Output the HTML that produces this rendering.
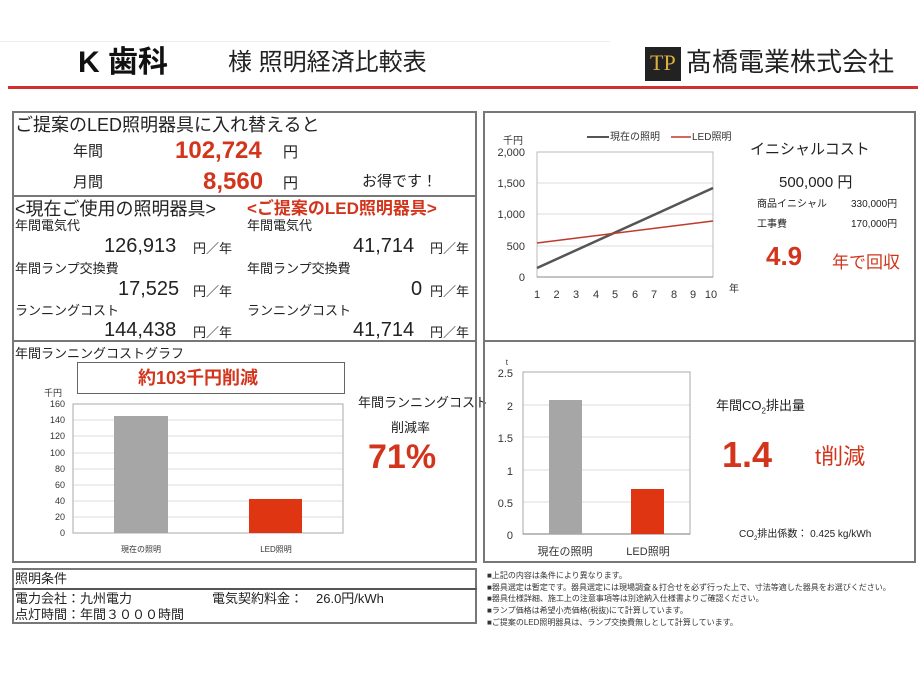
<!DOCTYPE html>
<html><head><meta charset="utf-8"><style>
body{margin:0;width:920px;height:690px;background:#fff;position:relative;overflow:hidden;font-family:"Liberation Sans","Noto Sans CJK JP",sans-serif;color:#222}
.a{position:absolute;white-space:nowrap;line-height:1}
.box{position:absolute;border:2px solid #777;box-sizing:border-box}
.red{color:#d2351c;font-weight:bold}
.s{font-size:13px}
</style></head><body>
<div class="a" style="left:0;top:41px;width:610px;height:1px;background:#eee"></div>
<div class="a" style="left:78px;top:48px;font-size:30px;font-weight:bold;color:#111">K 歯科</div>
<div class="a" style="left:228px;top:51px;font-size:24px;color:#222">様 照明経済比較表</div>
<div class="a" style="left:645px;top:47px;width:36px;height:34px;background:#222"></div>
<div class="a" style="left:650px;top:52px;font-size:22px;color:#dcb040;font-family:'Liberation Serif',serif">TP</div>
<div class="a" style="left:686px;top:49px;font-size:26px;color:#222">髙橋電業株式会社</div>
<div class="a" style="left:8px;top:86px;width:910px;height:3px;background:#d03030"></div>

<!-- left top -->
<div class="box" style="left:12px;top:111px;width:465px;height:231px"></div>
<div class="a" style="left:12px;top:195px;width:465px;height:2px;background:#777"></div>
<div class="a" style="left:15px;top:116px;font-size:18px">ご提案のLED照明器具に入れ替えると</div>
<div class="a" style="left:73px;top:144px;font-size:15px">年間</div>
<div class="a red" style="left:175px;top:139px;font-size:24px">102,724</div>
<div class="a" style="left:283px;top:145px;font-size:15px">円</div>
<div class="a" style="left:73px;top:175px;font-size:15px">月間</div>
<div class="a red" style="left:203px;top:170px;font-size:24px">8,560</div>
<div class="a" style="left:283px;top:176px;font-size:15px">円</div>
<div class="a" style="left:362px;top:174px;font-size:15px">お得です！</div>

<div class="a" style="left:15px;top:200px;font-size:18px">&lt;現在ご使用の照明器具&gt;</div>
<div class="a red" style="left:247px;top:200px;font-size:17px">&lt;ご提案のLED照明器具&gt;</div>
<div class="a s" style="left:15px;top:219px">年間電気代</div>
<div class="a s" style="left:247px;top:219px">年間電気代</div>
<div class="a" style="left:104px;top:236px;font-size:20px">126,913</div><div class="a s" style="left:193px;top:242px">円／年</div>
<div class="a" style="left:353px;top:236px;font-size:20px">41,714</div><div class="a s" style="left:430px;top:242px">円／年</div>
<div class="a s" style="left:15px;top:262px">年間ランプ交換費</div>
<div class="a s" style="left:247px;top:262px">年間ランプ交換費</div>
<div class="a" style="left:118px;top:279px;font-size:20px">17,525</div><div class="a s" style="left:193px;top:285px">円／年</div>
<div class="a" style="left:411px;top:279px;font-size:20px">0</div><div class="a s" style="left:430px;top:285px">円／年</div>
<div class="a s" style="left:15px;top:304px">ランニングコスト</div>
<div class="a s" style="left:247px;top:304px">ランニングコスト</div>
<div class="a" style="left:104px;top:320px;font-size:20px">144,438</div><div class="a s" style="left:193px;top:326px">円／年</div>
<div class="a" style="left:353px;top:320px;font-size:20px">41,714</div><div class="a s" style="left:430px;top:326px">円／年</div>

<!-- right top -->
<div class="box" style="left:483px;top:111px;width:433px;height:231px"></div>
<svg class="a" style="left:483px;top:111px" width="433" height="231">
<g stroke="#ddd"><line x1="54" y1="41" x2="230" y2="41"/><line x1="54" y1="72" x2="230" y2="72"/><line x1="54" y1="103" x2="230" y2="103"/><line x1="54" y1="135" x2="230" y2="135"/></g>
<rect x="54" y="41" width="176" height="125" fill="none" stroke="#bbb"/>
<line x1="54" y1="166" x2="230" y2="166" stroke="#888"/>
<line x1="54" y1="157" x2="230" y2="77" stroke="#555" stroke-width="2.5"/>
<line x1="54" y1="132" x2="230" y2="110" stroke="#c0392b" stroke-width="1.5"/>
<line x1="104" y1="26" x2="126" y2="26" stroke="#555" stroke-width="2"/>
<line x1="188" y1="26" x2="208" y2="26" stroke="#c0392b" stroke-width="1.5"/>
<g font-size="10" fill="#333" font-family="Liberation Sans,Noto Sans CJK JP,sans-serif">
<text x="127" y="29">現在の照明</text><text x="209" y="29">LED照明</text>
<text x="20" y="33">千円</text>
<g text-anchor="end" font-size="11"><text x="42" y="45">2,000</text><text x="42" y="76">1,500</text><text x="42" y="107">1,000</text><text x="42" y="139">500</text><text x="42" y="170">0</text></g>
<g text-anchor="middle" font-size="11"><text x="54" y="187">1</text><text x="73.5" y="187">2</text><text x="93" y="187">3</text><text x="113" y="187">4</text><text x="132" y="187">5</text><text x="152" y="187">6</text><text x="171" y="187">7</text><text x="191" y="187">8</text><text x="210" y="187">9</text><text x="228" y="187">10</text></g>
<text x="246" y="181">年</text>
</g>
</svg>
<div class="a" style="left:750px;top:142px;font-size:15px">イニシャルコスト</div>
<div class="a" style="left:779px;top:175px;font-size:15px">500,000 円</div>
<div class="a" style="left:757px;top:200px;font-size:10px">商品イニシャル</div>
<div class="a" style="left:851px;top:200px;font-size:10px">330,000円</div>
<div class="a" style="left:757px;top:220px;font-size:10px">工事費</div>
<div class="a" style="left:851px;top:220px;font-size:10px">170,000円</div>
<div class="a red" style="left:766px;top:243px;font-size:26px">4.9</div>
<div class="a" style="left:832px;top:254px;font-size:17px;color:#d2351c">年で回収</div>

<!-- left bottom -->
<div class="box" style="left:12px;top:340px;width:465px;height:223px"></div>
<div class="a s" style="left:15px;top:347px">年間ランニングコストグラフ</div>
<div class="a" style="left:77px;top:362px;width:268px;height:32px;border:1.5px solid #666;box-sizing:border-box"></div>
<div class="a red" style="left:138px;top:369px;font-size:18px">約103千円削減</div>
<svg class="a" style="left:12px;top:340px" width="465" height="223">
<g stroke="#ddd"><line x1="61" y1="64" x2="331" y2="64"/><line x1="61" y1="80" x2="331" y2="80"/><line x1="61" y1="96" x2="331" y2="96"/><line x1="61" y1="113" x2="331" y2="113"/><line x1="61" y1="129" x2="331" y2="129"/><line x1="61" y1="145" x2="331" y2="145"/><line x1="61" y1="161" x2="331" y2="161"/><line x1="61" y1="177" x2="331" y2="177"/></g>
<rect x="61" y="64" width="270" height="129" fill="none" stroke="#aaa"/>
<rect x="102" y="76" width="54" height="117" fill="#a6a6a6"/>
<rect x="237" y="159" width="53" height="34" fill="#e03512"/>
<g font-size="9" fill="#333" text-anchor="end" font-family="Liberation Sans,Noto Sans CJK JP,sans-serif">
<text x="50" y="56">千円</text>
<text x="53" y="67">160</text><text x="53" y="83">140</text><text x="53" y="99">120</text><text x="53" y="116">100</text><text x="53" y="132">80</text><text x="53" y="148">60</text><text x="53" y="164">40</text><text x="53" y="180">20</text><text x="53" y="196">0</text>
<g text-anchor="middle" font-size="8"><text x="129" y="212">現在の照明</text><text x="264" y="212">LED照明</text></g>
</g>
</svg>
<div class="a" style="left:358px;top:396px;font-size:13px">年間ランニングコスト</div>
<div class="a" style="left:391px;top:421px;font-size:13px">削減率</div>
<div class="a red" style="left:368px;top:440px;font-size:34px">71%</div>

<!-- right bottom -->
<div class="box" style="left:483px;top:340px;width:433px;height:223px"></div>
<svg class="a" style="left:483px;top:340px" width="433" height="223">
<g stroke="#ddd"><line x1="40" y1="32" x2="207" y2="32"/><line x1="40" y1="65" x2="207" y2="65"/><line x1="40" y1="97" x2="207" y2="97"/><line x1="40" y1="130" x2="207" y2="130"/><line x1="40" y1="162" x2="207" y2="162"/></g>
<rect x="40" y="32" width="167" height="162" fill="none" stroke="#aaa"/>
<line x1="40" y1="194" x2="207" y2="194" stroke="#777"/>
<rect x="66" y="60" width="33" height="134" fill="#a6a6a6"/>
<rect x="148" y="149" width="33" height="45" fill="#e03512"/>
<g font-size="11" fill="#333" text-anchor="end" font-family="Liberation Sans,Noto Sans CJK JP,sans-serif">
<text x="25" y="25" font-size="8">t</text>
<text x="30" y="37">2.5</text><text x="30" y="70">2</text><text x="30" y="102">1.5</text><text x="30" y="135">1</text><text x="30" y="167">0.5</text><text x="30" y="199">0</text>
<g text-anchor="middle" font-size="11"><text x="82" y="215">現在の照明</text><text x="165" y="215">LED照明</text></g>
</g>
</svg>
<div class="a" style="left:716px;top:399px;font-size:13px">年間CO<sub style="font-size:8px">2</sub>排出量</div>
<div class="a red" style="left:722px;top:437px;font-size:36px">1.4</div>
<div class="a" style="left:815px;top:446px;font-size:22px;color:#d2351c">t削減</div>
<div class="a" style="left:739px;top:530px;font-size:10px">CO<sub style="font-size:6px">2</sub>排出係数： 0.425 kg/kWh</div>

<!-- conditions -->
<div class="box" style="left:12px;top:568px;width:465px;height:56px"></div>
<div class="a" style="left:12px;top:588px;width:465px;height:2px;background:#555"></div>
<div class="a s" style="left:15px;top:572px">照明条件</div>
<div class="a s" style="left:15px;top:592px">電力会社：九州電力</div>
<div class="a s" style="left:212px;top:592px">電気契約料金：　26.0円/kWh</div>
<div class="a s" style="left:15px;top:608px">点灯時間：年間３０００時間</div>

<div class="a" style="left:487px;top:570px;font-size:8px;line-height:11.7px;color:#333">■上記の内容は条件により異なります。<br>■器具選定は暫定です。器具選定には現場調査＆打合せを必ず行った上で、寸法等適した器具をお選びください。<br>■器具仕様詳細、施工上の注意事項等は別途納入仕様書よりご確認ください。<br>■ランプ価格は希望小売価格(税抜)にて計算しています。<br>■ご提案のLED照明器具は、ランプ交換費無しとして計算しています。</div>
</body></html>
